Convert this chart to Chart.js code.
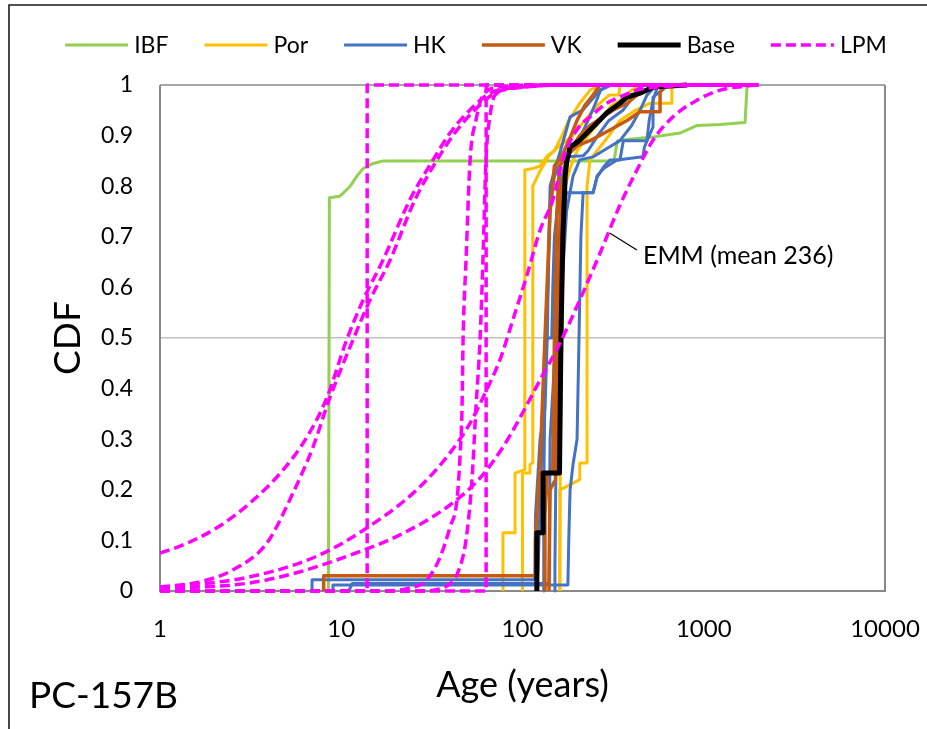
<!DOCTYPE html>
<html>
<head>
<meta charset="utf-8">
<script src="https://cdn.jsdelivr.net/npm/chart.js@4.4.1/dist/chart.umd.min.js"></script>
<style>
  html, body { margin: 0; padding: 0; background: #ffffff; }
  canvas { display: block; }
</style>
</head>
<body>
<canvas id="cdf" width="927" height="729"></canvas>
<script>
// ---- axis ticks ----
const ageTicks = [1, 10, 100, 1000, 10000];
const cdfStep = 0.1;

// ---- series: [age (years), CDF] ----
const ibf = [[8.5,0],[8.6,0.777],[9.8,0.78],[10.5,0.79],[11.2,0.8],[12.2,0.82],[13.2,0.835],[15,0.845],[17,0.85],
  [320,0.85],[330,0.88],[335,0.89],[390,0.893],[520,0.897],[740,0.905],[920,0.92],[1230,0.922],[1690,0.926],[1735,1]];

const por1 = [[78,0],[78,0.115],[91,0.115],[91,0.233],[103,0.24],[103,0.832],[114,0.835],[125,0.84],[137,0.86],
  [150,0.87],[165,0.9],[180,0.93],[207,0.964],[236,0.99],[268,1]];
const por2 = [[100,0],[100,0.233],[110,0.233],[110,0.25],[114,0.253],[114,0.8],[125,0.83],[140,0.86],[160,0.88],
  [190,0.9],[220,0.93],[260,0.96],[300,0.98],[340,0.98],[345,1]];
const por3 = [[161,0],[161,0.2],[207,0.22],[207,0.253],[227,0.253],[227,0.8],[236,0.852],[258,0.87],[300,0.9],
  [345,0.93],[420,0.95],[505,0.964],[667,0.964],[667,0.996],[700,1]];
const por4 = [[160,0],[162,0.3],[165,0.5],[168,0.7],[172,0.8],[185,0.84],[200,0.87],[230,0.9],[270,0.93],
  [310,0.96],[350,0.97],[400,0.99],[450,1]];

const hk1 = [[6.9,0],[6.9,0.022],[117,0.022],[118,0.15],[125,0.3],[133,0.36],[137,0.5],[140,0.7],[142,0.8],
  [150,0.83],[165,0.88],[183,0.937],[216,0.951],[268,0.99],[300,1]];
const hk2 = [[9,0],[9,0.012],[178,0.012],[180,0.1],[183,0.2],[190,0.25],[200,0.3],[205,0.5],[210,0.7],[216,0.787],
  [245,0.787],[258,0.818],[280,0.838],[304,0.852],[345,0.852],[360,0.89],[486,0.89],[500,0.93],[525,0.97],[560,1]];
const hk3 = [[150,0],[151,0.05],[153,0.25],[155,0.5],[160,0.7],[175,0.787],[245,0.787],[258,0.82],[280,0.835],
  [332,0.852],[462,0.858],[470,0.877],[525,0.917],[525,0.976],[640,1]];
const hk4 = [[130,0],[131,0.2],[133,0.4],[135,0.5],[145,0.5],[147,0.6],[150,0.7],[160,0.8],[176,0.858],[216,0.86],
  [230,0.87],[260,0.9],[300,0.93],[358,0.95],[407,0.976],[450,1]];
const hk5 = [[11,0],[11.5,0.015],[140,0.015],[142,0.3],[150,0.45],[165,0.6],[175,0.75],[190,0.82],[207,0.852],
  [245,0.858],[300,0.877],[345,0.89],[400,0.92],[445,0.95],[486,0.98],[550,1]];
const hk6 = [[120,0],[122,0.05],[127,0.25],[132,0.4],[138,0.6],[142,0.76],[150,0.82],[160,0.84],[176,0.86],
  [190,0.88],[210,0.9],[230,0.93],[250,0.96],[270,0.99],[310,1]];

const vk1 = [[8,0],[8,0.03],[118,0.03],[118,0.1],[122,0.2],[125,0.25],[133,0.5],[142,0.75],[150,0.84],[160,0.852],
  [170,0.87],[185,0.9],[200,0.93],[221,0.96],[245,0.98],[268,1]];
const vk2 = [[133,0],[133,0.15],[137,0.23],[147,0.24],[150,0.5],[155,0.75],[160,0.84],[176,0.86],[190,0.88],
  [207,0.9],[236,0.92],[278,0.937],[316,0.95],[377,0.964],[428,0.98],[486,0.99],[525,1]];
const vk3 = [[140,0],[142,0.2],[152,0.22],[157,0.5],[162,0.78],[176,0.86],[200,0.88],[236,0.89],[300,0.91],
  [377,0.93],[445,0.947],[574,0.947],[574,0.986],[620,1]];

const base = [[120,0],[120,0.115],[130,0.115],[130,0.233],[160,0.233],[163,0.5],[167,0.7],[172,0.82],[176,0.852],
  [183,0.877],[207,0.891],[245,0.917],[292,0.945],[345,0.964],[377,0.976],[445,0.984],[486,0.99],[525,0.996],[809,1]];

const lpmStep14 = [[1,0],[13.9,0],[13.9,1],[2000,1]];
const lpmStep63 = [[1,0],[63,0],[63,1],[2000,1]];
const lpmWideA = [[1,0.075],[1.34,0.091],[2.06,0.125],[3.14,0.174],[4.77,0.239],[6.46,0.304],[8.35,0.383],
  [10.7,0.496],[13.2,0.575],[17,0.654],[23.9,0.773],[32.1,0.852],[39.8,0.905],[51.4,0.951],[66.3,0.984],
  [96.7,0.996],[161,1],[2000,1]];
const lpmWideB = [[1,0.008],[1.66,0.018],[2.53,0.042],[3.89,0.095],[5.42,0.194],[6.99,0.285],[8.67,0.383],
  [11.6,0.496],[14.4,0.575],[18.6,0.654],[25.5,0.773],[33.8,0.852],[42.3,0.905],[54.7,0.951],[70.5,0.984],
  [103,0.996],[183,1],[2000,1]];
const lpmNarrow1 = [[1,0],[16.4,0],[23.9,0.006],[29.7,0.022],[35.1,0.067],[39.8,0.126],[43.5,0.18],[45.2,0.265],
  [46.4,0.364],[47,0.496],[48.8,0.654],[51.4,0.852],[55.4,0.931],[60.5,0.98],[75.1,0.996],[125,1],[2000,1]];
const lpmNarrow2 = [[1,0],[27.2,0],[37.4,0.008],[44.1,0.038],[48.8,0.101],[52.6,0.219],[55.4,0.364],[58.3,0.496],
  [60.5,0.654],[62.9,0.852],[66.3,0.941],[70.5,0.98],[96.7,0.996],[161,1],[2000,1]];
const lpmMid = [[1,0.006],[3.14,0.028],[7.35,0.069],[13.9,0.125],[26.1,0.2],[39.8,0.273],[51.4,0.332],[63.3,0.397],
  [75.1,0.457],[88.5,0.536],[106,0.625],[125,0.713],[147,0.773],[167,0.852],[199,0.911],[236,0.937],[292,0.964],
  [344,0.976],[427,0.99],[572,0.996],[1232,1],[2000,1]];
const lpmEmm = [[1,0.004],[3.14,0.016],[5.92,0.038],[11.2,0.071],[21.1,0.111],[39.8,0.17],[58.2,0.223],[78.2,0.285],
  [96.7,0.342],[125,0.417],[161,0.49],[207,0.575],[268,0.668],[345,0.763],[428,0.832],[525,0.891],[676,0.937],
  [918,0.97],[1232,0.99],[1735,0.998],[2040,1]];

// ---- styling per group ----
const groups = [
  { name: 'IBF',  color: '#92D050', width: 3,   dash: [],      order: 5, lines: [ibf] },
  { name: 'Por',  color: '#FFC000', width: 3,   dash: [],      order: 4, lines: [por1, por2, por3, por4] },
  { name: 'HK',   color: '#4472C4', width: 3,   dash: [],      order: 3, lines: [hk1, hk2, hk3, hk4, hk5, hk6] },
  { name: 'VK',   color: '#C55A11', width: 3.5, dash: [],      order: 2, lines: [vk1, vk2, vk3] },
  { name: 'Base', color: '#000000', width: 5,   dash: [],      order: 1, lines: [base] },
  { name: 'LPM',  color: '#FF00FF', width: 3.5, dash: [10, 5], order: 0,
    lines: [lpmStep14, lpmStep63, lpmWideA, lpmWideB, lpmNarrow1, lpmNarrow2, lpmMid, lpmEmm] }
];
const smoothLines = new Set([lpmWideA, lpmWideB, lpmNarrow1, lpmNarrow2, lpmMid, lpmEmm]);

const datasets = [];
groups.forEach(g => {
  g.lines.forEach((pts, i) => {
    datasets.push({
      label: g.name + ' ' + (i + 1),
      data: pts.map(([x, y]) => ({ x, y })),
      borderColor: g.color,
      backgroundColor: g.color,
      borderWidth: g.width,
      borderDash: g.dash,
      borderJoinStyle: 'round',
      pointRadius: 0,
      pointHoverRadius: 0,
      fill: false,
      tension: smoothLines.has(pts) ? 0.4 : 0,
      cubicInterpolationMode: smoothLines.has(pts) ? 'monotone' : 'default',
      clip: false,
      order: g.order
    });
  });
});

const FONT = 'Lato, "Open Sans", sans-serif';

// frame around the plot area, drawn under the lines
const plotFrame = {
  id: 'plotFrame',
  beforeDatasetsDraw(chart) {
    const { ctx, chartArea: a } = chart;
    ctx.save();
    ctx.lineWidth = 2;
    ctx.strokeStyle = '#a6a6a6';
    ctx.beginPath(); ctx.moveTo(a.left, a.top); ctx.lineTo(a.right, a.top); ctx.stroke();
    ctx.strokeStyle = '#898989';
    ctx.beginPath();
    ctx.moveTo(a.left, a.top); ctx.lineTo(a.left, a.bottom); ctx.lineTo(a.right, a.bottom); ctx.lineTo(a.right, a.top);
    ctx.stroke();
    ctx.restore();
  }
};

// legend row, EMM note, sample name and page border
const extras = {
  id: 'extras',
  afterDraw(chart) {
    const { ctx } = chart;
    const xs = chart.scales.x, ys = chart.scales.y;
    ctx.save();

    // outer border (left and top)
    ctx.strokeStyle = '#1a1a1a';
    ctx.lineWidth = 1.6;
    ctx.beginPath(); ctx.moveTo(9, 729); ctx.lineTo(9, 5); ctx.lineTo(927, 5); ctx.stroke();

    // legend
    ctx.font = '23px ' + FONT;
    ctx.textBaseline = 'middle';
    ctx.textAlign = 'left';
    const lineLen = 63, gapText = 6, gapItem = 36, rowY = 45;
    const widths = groups.map(g => lineLen + gapText + ctx.measureText(g.name).width);
    const total = widths.reduce((s, w) => s + w, 0) + gapItem * (groups.length - 1);
    let x = 476 - total / 2;
    groups.forEach((g, i) => {
      ctx.strokeStyle = g.color;
      ctx.lineWidth = g.width;
      ctx.setLineDash(g.dash);
      ctx.beginPath(); ctx.moveTo(x, rowY); ctx.lineTo(x + lineLen, rowY); ctx.stroke();
      ctx.setLineDash([]);
      ctx.fillStyle = '#000000';
      ctx.fillText(g.name, x + lineLen + gapText, rowY + 1);
      x += widths[i] + gapItem;
    });

    // EMM note with pointer
    ctx.strokeStyle = '#000000';
    ctx.lineWidth = 1.2;
    ctx.beginPath();
    ctx.moveTo(xs.getPixelForValue(304), ys.getPixelForValue(0.707));
    ctx.lineTo(xs.getPixelForValue(428), ys.getPixelForValue(0.674));
    ctx.stroke();
    ctx.font = '25px ' + FONT;
    ctx.fillText('EMM (mean 236)', xs.getPixelForValue(462), ys.getPixelForValue(0.662));

    // sample name
    ctx.font = '37px ' + FONT;
    ctx.textBaseline = 'alphabetic';
    ctx.fillText('PC-157B', 29, 708);
    ctx.restore();
  }
};

new Chart(document.getElementById('cdf'), {
  type: 'line',
  data: { datasets },
  plugins: [plotFrame, extras],
  options: {
    responsive: false,
    animation: false,
    devicePixelRatio: 1,
    layout: { padding: { left: 30, top: 85, right: 42, bottom: 22 } },
    plugins: { legend: { display: false }, tooltip: { enabled: false } },
    scales: {
      x: {
        type: 'logarithmic',
        min: 1, max: 10000,
        afterBuildTicks: s => { s.ticks = ageTicks.map(v => ({ value: v })); },
        afterFit: s => { s.height = 116; s.paddingLeft = 0; s.paddingRight = 0; },
        grid: { display: false, drawTicks: false },
        border: { display: false },
        ticks: {
          autoSkip: false, maxRotation: 0, padding: 24,
          color: '#000000', font: { family: FONT, size: 24 },
          callback: v => String(v)
        },
        title: { display: true, text: 'Age (years)', color: '#000000',
                 font: { family: FONT, size: 36 }, padding: { top: 0, bottom: 0 } }
      },
      y: {
        type: 'linear',
        min: 0, max: 1,
        afterFit: s => { s.width = 130; },
        grid: {
          drawTicks: false,
          lineWidth: 1.5,
          color: c => (c.tick && Math.abs(c.tick.value - 0.5) < 1e-6) ? '#c0c0c0' : 'rgba(0,0,0,0)'
        },
        border: { display: false },
        ticks: {
          stepSize: cdfStep, padding: 27,
          color: '#000000', font: { family: FONT, size: 23 },
          callback: v => String(Math.round(v * 10) / 10)
        },
        title: { display: true, text: 'CDF', color: '#000000',
                 font: { family: FONT, size: 37 }, padding: { top: 16, bottom: 0 } }
      }
    }
  }
});
</script>
</body>
</html>
